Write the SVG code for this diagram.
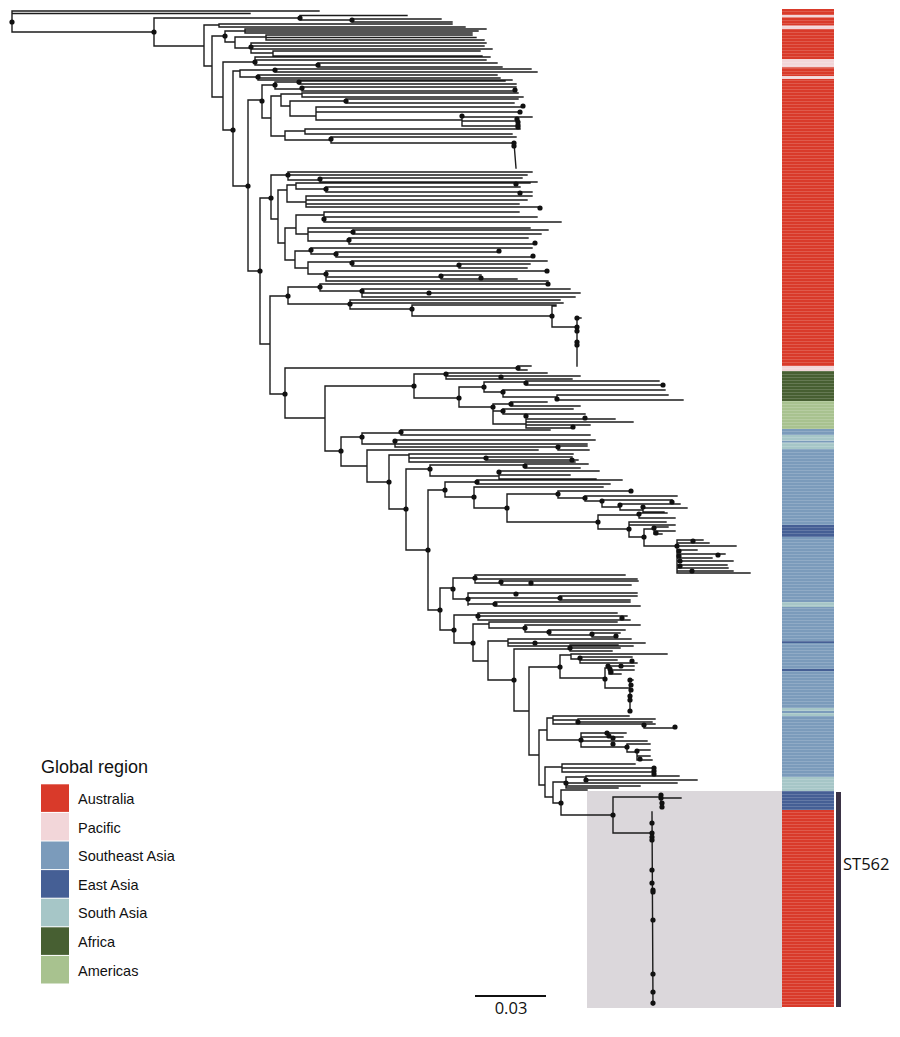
<svg xmlns="http://www.w3.org/2000/svg" width="900" height="1037" viewBox="0 0 900 1037">
<style>
.br{fill:none;stroke:#1c1c1c;stroke-width:1.4;stroke-linecap:square}
.dot{fill:#111}
.lg{font-family:"Liberation Sans",Arial,sans-serif;font-size:14.5px;fill:#111}
.lt{font-family:"Liberation Sans",Arial,sans-serif;font-size:18px;fill:#111}
.os{font-family:"Open Sans","Liberation Sans",sans-serif;font-size:16.5px;fill:#111}
.au{fill:#d93a2a}.pa{fill:#f2d6d9}.se{fill:#7b9bbb}.ea{fill:#455f95}.sa{fill:#a6c6c7}.af{fill:#475f32}.am{fill:#a8c28f}
</style>
<defs>
<pattern id="stripes" width="4" height="3" patternUnits="userSpaceOnUse">
<rect y="2" width="4" height="1" fill="#ffffff" opacity="0.16"/>
</pattern>
</defs>
<rect width="900" height="1037" fill="#ffffff"/>
<g id="st562-box"><rect x="587" y="791" width="195" height="217" fill="#dbd7db"/></g>
<g id="region-bar">
<rect class="au" x="782" y="9" width="52" height="6"/>
<rect class="pa" x="782" y="15" width="52" height="2.3"/>
<rect class="au" x="782" y="17.3" width="52" height="8.4"/>
<rect class="pa" x="782" y="25.7" width="52" height="3.3"/>
<rect class="au" x="782" y="29" width="52" height="30.3"/>
<rect class="pa" x="782" y="59.3" width="52" height="8"/>
<rect class="au" x="782" y="67.3" width="52" height="8.7"/>
<rect class="pa" x="782" y="76" width="52" height="3"/>
<rect class="au" x="782" y="79" width="52" height="287"/>
<rect class="pa" x="782" y="366" width="52" height="5"/>
<rect class="af" x="782" y="371" width="52" height="30"/>
<rect class="am" x="782" y="401" width="52" height="28"/>
<rect class="se" x="782" y="429" width="52" height="6"/>
<rect class="sa" x="782" y="435" width="52" height="5.7"/>
<rect class="se" x="782" y="440.7" width="52" height="2"/>
<rect class="sa" x="782" y="442.7" width="52" height="6.3"/>
<rect class="se" x="782" y="449" width="52" height="76"/>
<rect class="ea" x="782" y="525" width="52" height="12"/>
<rect class="se" x="782" y="537" width="52" height="65"/>
<rect class="sa" x="782" y="602" width="52" height="5"/>
<rect class="se" x="782" y="607" width="52" height="34"/>
<rect class="ea" x="782" y="641" width="52" height="2"/>
<rect class="se" x="782" y="643" width="52" height="26"/>
<rect class="ea" x="782" y="669" width="52" height="2"/>
<rect class="se" x="782" y="671" width="52" height="37"/>
<rect class="sa" x="782" y="708" width="52" height="3"/>
<rect class="se" x="782" y="711" width="52" height="2"/>
<rect class="sa" x="782" y="713" width="52" height="3"/>
<rect class="se" x="782" y="716" width="52" height="61"/>
<rect class="sa" x="782" y="777" width="52" height="14"/>
<rect class="ea" x="782" y="791" width="52" height="19"/>
<rect class="au" x="782" y="810" width="52" height="197"/>
<rect x="782" y="9" width="52" height="998" fill="url(#stripes)"/>
</g>
<g id="st562-clade-bar">
<rect x="836" y="792" width="5" height="215" fill="#3b3346"/>
<text class="os" x="843" y="870">ST562</text>
</g>
<g id="connectors">
<path class="br" d="M12 11V32M12 11H319M12 13.5H250M12 32H154
M154 18V46M154 18H300M154 46H204
M300 15.5V20M300 15.5H407M300 20H352
M352 19V22M352 19H441M352 22H452
M204 25V66M204 25H219M204 66H212
M219 24V27M219 24H452M219 27H465
M212 36V97M212 36H225M212 97H223
M225 31V42M225 31H245M225 42H235
M245 29V33M245 29H486M245 31H478M245 33H472
M235 37V48M235 37H266M235 48H251
M266 35V40M266 35H472M266 37.5H476M266 40H484
M251 43V53M251 43H486M251 46H484M251 49H492M251 53H273
M273 51V56M273 51H480M273 56H482
M223 62V130M223 62H255M223 130H233
M255 57V65M255 57H490M255 60H486M255 65H318
M318 63V67M318 63H497M318 67H502
M233 71V186M233 71H240M233 186H248
M240 70V77M240 70H275M240 77H258
M275 69V72M275 69H531M275 72H537
M258 75V80M258 75H497M258 78H500M258 80H512
M248 100V271M248 100H262M248 271H260
M262 85V118M262 85H275M262 118H271
M275 82V89M275 82H299M275 89H302
M299 81V84M299 81H505M299 84H516
M302 87V91M302 87H516M302 91H515
M271 96V136M271 96H281M271 136H285
M281 94V106M281 94H302M281 106H290
M302 93V97M302 93H518M302 97H523
M290 101V116M290 101H346M290 116H316
M346 99V103M346 99H518M346 103H514
M316 107V120M316 107H523M316 112H520M316 120H462
M462 117V126M462 117H532M462 121H517M462 126H518
M285 131V140M285 131H305M285 140H331
M305 129V134M305 129H520M305 134H512
M331 137V143M331 137H516M331 143H514
M514 143L516 168
M260 198V344M260 198H271M260 344H270
M271 175V219M271 175H288M271 219H278
M288 172V180M288 172H532M288 175H527M288 180H320
M320 178V182M320 178H522M320 182H537
M278 190V243M278 190H287M278 243H285
M287 185V202M287 185H296M287 202H306
M296 183V189M296 183H530M296 189H326
M326 187V192M326 187H520M326 192H532
M306 196V207M306 196H532M306 200H527M306 204H519M306 207H540
M285 228V260M285 228H296M285 260H295
M296 215V234M296 215H324M296 234H308
M324 212V222M324 212H519M324 217H537M324 222H561
M308 228V241M308 228H530M308 232H353M308 241H349
M353 230V234M353 230H548M353 234H541
M349 238V244M349 238H528M349 244H535
M295 251V268M295 251H311M295 268H308
M311 248V254M311 248H532M311 254H336
M336 252V257M336 252H499M336 257H533
M308 262V274M308 262H352M308 274H326
M352 261V266M352 261H547M352 266H459
M459 264V268M459 264H530M459 268H527
M326 271V281M326 271H547M326 277H441M326 281H548
M441 275V279M441 275H481M441 279H517
M270 296V394M270 296H288M270 394H285
M288 287V304M288 287H320M288 304H350
M320 284V291M320 284H548M320 291H362
M362 289V297M362 289H570M362 293H580M362 297H575
M350 300V309M350 300H560M350 303H563M350 309H412
M412 305V316M412 305H556M412 316H552
M552 306V327M552 306H556M552 327H577
M577 318V366M577 318H581
M285 368V418M285 368H518M285 418H325
M518 366V370M518 366H531M518 370H527
M325 386V451M325 386H414M325 451H341
M414 374V398M414 374H446M414 398H459
M446 373V379M446 373H547M446 376H580M446 379H572
M459 387V407M459 387H484M459 407H493
M484 382V392M484 382H526M484 392H503
M526 381V385M526 381H659M526 385H663
M503 390V397M503 390H665M503 397H557
M557 395V400M557 395H668M557 400H683
M493 404V424M493 404H511M493 411H503M493 424H526
M511 402V406M511 402H547M511 406H580
M503 409V414M503 409H573M503 414H585
M526 419V428M526 419H615M526 422H633M526 425H590M526 428H573
M341 437V466M341 437H362M341 466H367
M362 433V444M362 433H401M362 444H395
M401 430V435M401 430H550M401 435H590
M395 440V447M395 440H595M395 444H587M395 447H558
M558 446V450M558 446H587M558 450H589
M367 450V482M367 450H538M367 482H389
M389 455V509M389 455H409M389 509H406
M409 454V462M409 454H573M409 458H486M409 462H575
M486 457V460M486 457H572M486 460H578
M406 469V550M406 469H430M406 550H428
M430 465V476M430 465H525M430 476H499
M525 464V468M525 464H588M525 468H580
M499 471V479M499 471H599M499 475H570M499 479H596
M428 490V610M428 490H445M428 610H440
M445 482V497M445 482H477M445 497H474
M477 480V484M477 480H622M477 484H610
M474 487V508M474 487H603M474 508H507
M507 494V522M507 494H558M507 522H598
M558 491V498M558 491H631M558 498H585
M585 496V501M585 496H677M585 501H602
M602 500V507M602 500H672M602 507H620
M620 504V510M620 504H680M620 510H643
M643 508V512M643 508H687M643 512H664
M598 515V529M598 515H639M598 529H629
M639 513V518M639 513H667M639 518H675
M629 522V537M629 522H666M629 525H675M629 537H644
M644 529V546M644 529H654M644 546H677
M654 527V534M654 527H668M654 531H675M654 534H662
M677 540V573M677 540H703M677 543H709M677 546H736M677 550H697M677 554H725M677 558H712M677 561H733M677 565H727M677 568H728M677 571H733M677 573H750
M440 588V630M440 588H453M440 630H454
M453 578V599M453 578H475M453 599H468
M475 575V583M475 575H625M475 579H637M475 583H501
M501 581V585M501 581H638M501 585H631
M468 593V605M468 593H637M468 598H560M468 604H495
M560 596V600M560 596H637M560 600H630
M495 602V606M495 602H630M495 606H640
M454 615V643M454 615H478M454 643H473
M478 613V620M478 613H617M478 616H627M478 620H630
M473 624V661M473 624H489M473 661H488
M489 622V628M489 622H617M489 628H525
M525 625V632M525 625H640M525 632H549
M549 630V635M549 630H625M549 635H592
M592 633V637M592 633H620M592 637H616
M488 641V680M488 641H508M488 680H514
M508 639V646M508 639H631M508 643H645M508 646H633
M514 649V711M514 649H570M514 711H529
M570 645V651M570 645H618M570 648H620M570 651H612
M529 667V755M529 667H560M529 755H539
M560 655V678M560 655H571M560 678H605
M571 654V659M571 654H667M571 659H580
M580 657V663M580 657H632M580 660H617M580 663H637
M605 668V688M605 668H609M605 688H630
M609 666V674M609 666H634M609 670H634M609 674H621
M630 680V712M630 680H633
M539 730V785M539 730H547M539 785H545
M547 718V740M547 718H553M547 740H581
M553 716V724M553 716H629M553 720H578M553 724H644
M578 719V722M578 719H655M578 722H652
M644 724V728M644 724H655M644 728H675
M581 733V747M581 733H626M581 737H623M581 741H647M581 747H627
M627 744V752M627 744H650M627 752H637
M637 750V760M637 750H650M637 756H650M637 760H652
M545 767V797M545 767H562M545 797H553
M562 764V772M562 764H635M562 768H654M562 772H654
M553 782V803M553 782H566M553 803H561
M566 777V788M566 777H586M566 783H677M566 786H640M566 788H618
M586 776V780M586 776H679M586 780H697
M561 790V815M561 790H587M561 815H613
M613 797V833M613 797H661M613 833H652
M661 795V808M661 798H681
M652 812L653 1005"/>
</g>
<g id="tree-nodes" class="dot">
<circle cx="12" cy="22" r="2.6"/><circle cx="154" cy="32" r="2.6"/><circle cx="300" cy="18" r="2.6"/><circle cx="352" cy="20" r="2.6"/>
<circle cx="225" cy="36" r="2.6"/><circle cx="251" cy="47" r="2.6"/><circle cx="255" cy="62" r="2.6"/><circle cx="318" cy="65" r="2.6"/>
<circle cx="233" cy="130" r="2.6"/><circle cx="248" cy="186" r="2.6"/><circle cx="275" cy="70" r="2.6"/><circle cx="258" cy="77" r="2.6"/>
<circle cx="262" cy="101" r="2.6"/><circle cx="260" cy="271" r="2.6"/><circle cx="275" cy="85" r="2.6"/><circle cx="299" cy="82" r="2.6"/>
<circle cx="302" cy="88" r="2.6"/><circle cx="515" cy="90" r="2.6"/><circle cx="346" cy="101" r="2.6"/><circle cx="523" cy="106" r="2.6"/>
<circle cx="520" cy="112" r="2.6"/><circle cx="462" cy="116" r="2.6"/><circle cx="517" cy="119" r="2.6"/><circle cx="518" cy="122" r="2.6"/>
<circle cx="518" cy="125" r="2.6"/><circle cx="518" cy="127" r="2.6"/><circle cx="331" cy="139" r="2.6"/><circle cx="514" cy="143" r="2.6"/>
<circle cx="514" cy="146" r="2.6"/><circle cx="271" cy="198" r="2.6"/><circle cx="288" cy="175" r="2.6"/><circle cx="320" cy="179" r="2.6"/>
<circle cx="516" cy="184" r="2.6"/><circle cx="326" cy="189" r="2.6"/><circle cx="520" cy="193" r="2.6"/><circle cx="540" cy="208" r="2.6"/>
<circle cx="324" cy="219" r="2.6"/><circle cx="353" cy="232" r="2.6"/><circle cx="349" cy="240" r="2.6"/><circle cx="535" cy="243" r="2.6"/>
<circle cx="311" cy="250" r="2.6"/><circle cx="336" cy="254" r="2.6"/><circle cx="499" cy="251" r="2.6"/><circle cx="533" cy="256" r="2.6"/>
<circle cx="352" cy="263" r="2.6"/><circle cx="459" cy="265" r="2.6"/><circle cx="326" cy="274" r="2.6"/><circle cx="547" cy="271" r="2.6"/>
<circle cx="441" cy="276" r="2.6"/><circle cx="481" cy="278" r="2.6"/><circle cx="548" cy="284" r="2.6"/><circle cx="288" cy="296" r="2.6"/>
<circle cx="320" cy="287" r="2.6"/><circle cx="350" cy="304" r="2.6"/><circle cx="362" cy="291" r="2.6"/><circle cx="429" cy="293" r="2.6"/>
<circle cx="412" cy="309" r="2.6"/><circle cx="552" cy="316" r="2.6"/><circle cx="577" cy="327" r="2.6"/><circle cx="577" cy="318" r="2.6"/>
<circle cx="577" cy="331" r="2.6"/><circle cx="577" cy="342" r="2.6"/><circle cx="577" cy="345" r="2.6"/>
<circle cx="285" cy="394" r="2.6"/><circle cx="518" cy="368" r="2.6"/><circle cx="414" cy="386" r="2.6"/><circle cx="341" cy="451" r="2.6"/>
<circle cx="446" cy="374" r="2.6"/><circle cx="459" cy="398" r="2.6"/><circle cx="501" cy="377" r="2.6"/><circle cx="484" cy="387" r="2.6"/>
<circle cx="493" cy="407" r="2.6"/><circle cx="526" cy="383" r="2.6"/><circle cx="503" cy="392" r="2.6"/><circle cx="663" cy="385" r="2.6"/>
<circle cx="557" cy="399" r="2.6"/><circle cx="511" cy="404" r="2.6"/><circle cx="503" cy="411" r="2.6"/><circle cx="526" cy="416" r="2.6"/>
<circle cx="585" cy="418" r="2.6"/><circle cx="573" cy="427" r="2.6"/>
<circle cx="362" cy="437" r="2.6"/><circle cx="401" cy="432" r="2.6"/><circle cx="395" cy="441" r="2.6"/><circle cx="558" cy="447" r="2.6"/>
<circle cx="389" cy="482" r="2.6"/><circle cx="406" cy="509" r="2.6"/><circle cx="486" cy="458" r="2.6"/><circle cx="572" cy="460" r="2.6"/>
<circle cx="430" cy="469" r="2.6"/><circle cx="525" cy="466" r="2.6"/><circle cx="499" cy="472" r="2.6"/><circle cx="428" cy="550" r="2.6"/>
<circle cx="445" cy="490" r="2.6"/><circle cx="477" cy="482" r="2.6"/><circle cx="474" cy="497" r="2.6"/><circle cx="507" cy="508" r="2.6"/>
<circle cx="558" cy="494" r="2.6"/><circle cx="585" cy="498" r="2.6"/><circle cx="602" cy="501" r="2.6"/><circle cx="620" cy="505" r="2.6"/>
<circle cx="631" cy="491" r="2.6"/><circle cx="643" cy="507" r="2.6"/><circle cx="672" cy="502" r="2.6"/><circle cx="598" cy="522" r="2.6"/>
<circle cx="639" cy="514" r="2.6"/><circle cx="629" cy="529" r="2.6"/><circle cx="644" cy="537" r="2.6"/><circle cx="654" cy="528" r="2.6"/>
<circle cx="656" cy="533" r="2.6"/><circle cx="677" cy="546" r="2.6"/><circle cx="679" cy="551" r="2.6"/><circle cx="679" cy="556" r="2.6"/>
<circle cx="680" cy="561" r="2.6"/><circle cx="680" cy="566" r="2.6"/><circle cx="693" cy="541" r="2.6"/><circle cx="718" cy="555" r="2.6"/>
<circle cx="692" cy="571" r="2.6"/>
<circle cx="440" cy="610" r="2.6"/><circle cx="453" cy="589" r="2.6"/><circle cx="475" cy="578" r="2.6"/><circle cx="501" cy="582" r="2.6"/>
<circle cx="531" cy="583" r="2.6"/><circle cx="468" cy="599" r="2.6"/><circle cx="516" cy="594" r="2.6"/><circle cx="560" cy="598" r="2.6"/>
<circle cx="495" cy="604" r="2.6"/><circle cx="454" cy="630" r="2.6"/><circle cx="478" cy="616" r="2.6"/><circle cx="622" cy="618" r="2.6"/>
<circle cx="473" cy="643" r="2.6"/><circle cx="525" cy="628" r="2.6"/><circle cx="549" cy="632" r="2.6"/><circle cx="592" cy="634" r="2.6"/>
<circle cx="616" cy="636" r="2.6"/><circle cx="514" cy="680" r="2.6"/><circle cx="535" cy="643" r="2.6"/><circle cx="570" cy="648" r="2.6"/>
<circle cx="560" cy="667" r="2.6"/><circle cx="605" cy="679" r="2.6"/><circle cx="580" cy="658" r="2.6"/><circle cx="632" cy="661" r="2.6"/>
<circle cx="608" cy="666" r="2.6"/><circle cx="610" cy="669" r="2.6"/><circle cx="611" cy="672" r="2.6"/><circle cx="621" cy="666" r="2.6"/>
<circle cx="630" cy="680" r="2.6"/><circle cx="631" cy="685" r="2.6"/><circle cx="631" cy="690" r="2.6"/><circle cx="630" cy="696" r="2.6"/>
<circle cx="630" cy="700" r="2.6"/><circle cx="630" cy="711" r="2.6"/>
<circle cx="581" cy="740" r="2.6"/><circle cx="578" cy="722" r="2.6"/><circle cx="644" cy="725" r="2.6"/><circle cx="675" cy="727" r="2.6"/>
<circle cx="607" cy="733" r="2.6"/><circle cx="609" cy="736" r="2.6"/><circle cx="613" cy="738" r="2.6"/><circle cx="613" cy="744" r="2.6"/>
<circle cx="627" cy="747" r="2.6"/><circle cx="637" cy="751" r="2.6"/><circle cx="640" cy="759" r="2.6"/><circle cx="654" cy="768" r="2.6"/>
<circle cx="654" cy="771" r="2.6"/><circle cx="654" cy="774" r="2.6"/><circle cx="566" cy="783" r="2.6"/><circle cx="586" cy="780" r="2.6"/>
<circle cx="561" cy="803" r="2.6"/><circle cx="613" cy="815" r="2.6"/><circle cx="661" cy="795" r="2.6"/><circle cx="661" cy="798" r="2.6"/>
<circle cx="662" cy="803" r="2.6"/><circle cx="662" cy="807" r="2.6"/><circle cx="652" cy="833" r="2.6"/><circle cx="652" cy="823" r="2.6"/>
<circle cx="652" cy="837" r="2.6"/><circle cx="652" cy="840" r="2.6"/><circle cx="652" cy="870" r="2.6"/><circle cx="652" cy="883" r="2.6"/>
<circle cx="653" cy="890" r="2.6"/><circle cx="653" cy="892" r="2.6"/><circle cx="653" cy="920" r="2.6"/><circle cx="653" cy="974" r="2.6"/>
<circle cx="653" cy="992" r="2.6"/><circle cx="653" cy="1003" r="2.6"/>
</g>
<g id="scale-bar">
<path d="M475 996H546" stroke="#111" stroke-width="2" fill="none"/>
<text class="os" x="511" y="1014" text-anchor="middle">0.03</text>
</g>
<g id="legend">
<text class="lt" x="41" y="773">Global region</text>
<g id="legend-australia"><rect class="au" x="41" y="784.3" width="28" height="27.6"/><text class="lg" x="78" y="804">Australia</text></g>
<g id="legend-pacific"><rect class="pa" x="41" y="812.9" width="28" height="27.6"/><text class="lg" x="78" y="832.6">Pacific</text></g>
<g id="legend-southeast-asia"><rect class="se" x="41" y="841.5" width="28" height="27.6"/><text class="lg" x="78" y="861.2">Southeast Asia</text></g>
<g id="legend-east-asia"><rect class="ea" x="41" y="870.1" width="28" height="27.6"/><text class="lg" x="78" y="889.8">East Asia</text></g>
<g id="legend-south-asia"><rect class="sa" x="41" y="898.7" width="28" height="27.6"/><text class="lg" x="78" y="918.4">South Asia</text></g>
<g id="legend-africa"><rect class="af" x="41" y="927.3" width="28" height="27.6"/><text class="lg" x="78" y="947">Africa</text></g>
<g id="legend-americas"><rect class="am" x="41" y="955.9" width="28" height="27.6"/><text class="lg" x="78" y="975.6">Americas</text></g>
</g>
</svg>
